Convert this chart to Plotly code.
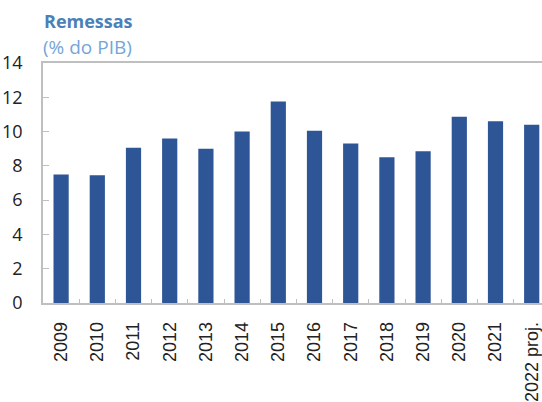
import plotly.graph_objects as go

categories = ["2009", "2010", "2011", "2012", "2013", "2014", "2015", "2016",
              "2017", "2018", "2019", "2020", "2021", "2022 proj."]
values = [7.5, 7.45, 9.05, 9.6, 9.0, 10.0, 11.75, 10.05, 9.3, 8.5, 8.85, 10.87, 10.6, 10.4]
y_ticks = [0, 2, 4, 6, 8, 10, 12, 14]

W, H = 542, 402
L, T = 43, 63
B = H - 303
plot_w = W - L
plot_h = H - T - B
step = 36.2
x_max = plot_w / step - 0.5

fig = go.Figure(go.Bar(
    x=categories, y=values,
    marker=dict(color="#2E5596", line=dict(width=0)),
    width=0.42,
))

fig.update_layout(
    width=W, height=H,
    margin=dict(l=L, r=0, t=T, b=B),
    paper_bgcolor="white", plot_bgcolor="white",
    showlegend=False,
    font=dict(family="Open Sans", color="#222222", size=16),
)
fig.update_xaxes(
    type="category", automargin=False,
    range=[-0.5, x_max],
    showline=True, linecolor="#BFBFBF", linewidth=1.5, mirror=True,
    ticks="inside", ticklen=4, tickcolor="#BFBFBF", tickson="boundaries",
    ticklabelstandoff=10,
    tickangle=-90, tickfont=dict(size=18, color="#222222", family="Liberation Sans"),
    showgrid=False,
)
fig.update_yaxes(
    range=[0, 14], tickvals=y_ticks, automargin=False,
    showline=True, linecolor="#BFBFBF", linewidth=1.5,
    showgrid=False, zeroline=False,
    ticks="inside", ticklen=6, tickcolor="#BFBFBF", ticklabelstandoff=15,
    tickfont=dict(size=18, color="#222222"),
)
fig.add_annotation(xref="paper", yref="paper", x=0, y=(H - B - 20.5) / plot_h,
                   text="<b>Remessas</b>", showarrow=False, xanchor="left", yanchor="middle",
                   xshift=-1,
                   font=dict(size=18, color="#4A81B8", family="Open Sans"))
fig.add_annotation(xref="paper", yref="paper", x=0, y=(H - B - 47) / plot_h,
                   text="(% do PIB)", showarrow=False, xanchor="left", yanchor="middle",
                   xshift=-2,
                   font=dict(size=19, color="#74A6D8", family="Open Sans"))

fig.write_html("out.html", config={"displayModeBar": False},
               post_script="document.body.style.margin='0';")
